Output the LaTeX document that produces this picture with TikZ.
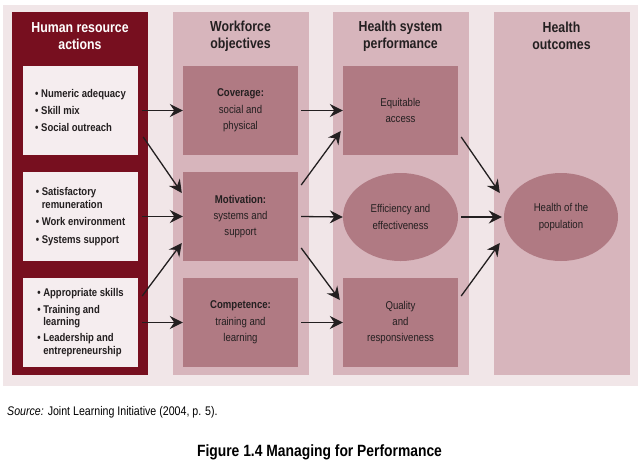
\documentclass[tikz,border=0pt]{standalone}
\usepackage{fontspec}
\setmainfont{Liberation Sans}
\newfontfamily\cond{Liberation Sans}[FakeStretch=0.85]
\usetikzlibrary{arrows.meta,shapes.geometric}
\definecolor{bgpink}{HTML}{F1E6E8}
\definecolor{maroon}{HTML}{770F1F}
\definecolor{colpink}{HTML}{D7B5BC}
\definecolor{boxrose}{HTML}{B07A83}
\definecolor{whitebox}{HTML}{F5EDEF}
\definecolor{ink}{HTML}{231F20}
\tikzset{
  column/.style={draw=none, minimum width=136pt, minimum height=363pt, inner sep=0pt},
  head/.style={align=center, font=\cond\bfseries\fontsize{14.5}{17.5}\selectfont, text=ink},
  listbox/.style={fill=whitebox, minimum width=115pt, minimum height=89pt, inner sep=0pt, align=left, text=ink,
    font=\cond\bfseries\fontsize{11.2}{12.8}\selectfont},
  rosebox/.style={fill=boxrose, minimum width=115pt, minimum height=89pt, inner sep=0pt, align=center, text=ink,
    font=\cond\fontsize{11.3}{16.3}\selectfont},
  roseell/.style={ellipse, fill=boxrose, minimum width=115pt, minimum height=88pt, inner sep=0pt, align=center, text=ink,
    font=\cond\fontsize{11.3}{16.3}\selectfont},
  conn/.style={-{Stealth[length=13pt,width=13pt,inset=4.5pt]}, line width=1.3pt, draw=ink}
}
\newcommand{\bl}{\textbullet\ }
\newcommand{\ind}{\hphantom{\textbullet\ }}
\begin{document}
\begin{tikzpicture}[x=1pt,y=-1pt]
\useasboundingbox (0,0) rectangle (643,464);
\fill[white] (0,0) rectangle (643,464);
\fill[bgpink] (3,5) rectangle (638,386);
% columns
\node[column, fill=maroon] (col1) at (80,193.5) {};
\node[column, fill=colpink] (col2) at (240.5,193.5) {};
\node[column, fill=colpink] (col3) at (400.5,193.5) {};
\node[column, fill=colpink] (col4) at (561.5,193.5) {};
% headers
\node[head, text=white] (h1) at (80,36) {Human resource\\actions};
\node[head] (h2) at (240.5,36) {Workforce\\objectives};
\node[head] (h3) at (400.5,36) {Health system\\performance};
\node[head] (h4) at (561.5,36) {Health\\outcomes};
% column 1
\node[listbox] (b1) at (80.5,110.5) {\bl Numeric adequacy\\[4.5pt]\bl Skill mix\\[4.5pt]\bl Social outreach};
\node[listbox] (b2) at (80.5,216.5) {\bl Satisfactory\\\ind remuneration\\[4.5pt]\bl Work environment\\[4.5pt]\bl Systems support};
\node[listbox] (b3) at (80.5,322.5) {\bl Appropriate skills\\[3.5pt]\bl Training and\\\ind learning\\[2.5pt]\bl Leadership and\\\ind entrepreneurship};
% column 2
\node[rosebox] (c1) at (240.5,110.5) {\textbf{Coverage:}\\social and\\physical};
\node[rosebox] (c2) at (240.5,216.5) {\textbf{Motivation:}\\systems and\\support};
\node[rosebox] (c3) at (240.5,322.5) {\textbf{Competence:}\\training and\\learning};
% column 3
\node[rosebox] (d1) at (400.5,110.5) {Equitable\\access};
\node[roseell] (d2) at (400.5,217) {Efficiency and\\effectiveness};
\node[rosebox] (d3) at (400.5,322.5) {Quality\\and\\responsiveness};
% column 4
\node[roseell, minimum width=114pt] (e) at (561,217) {Health of the\\population};
% connectors
\draw[conn] ([xshift=4pt]b1.east) -- (c1.west);
\draw[conn] ([xshift=5pt,yshift=-26.5pt]b1.east) -- ([xshift=-1pt,yshift=23.5pt]c2.west);
\draw[conn] ([xshift=4pt]b2.east) -- (c2.west);
\draw[conn] ([xshift=4pt,yshift=26.5pt]b3.east) -- ([xshift=-1pt,yshift=-26.5pt]c2.west);
\draw[conn] ([xshift=4pt]b3.east) -- (c3.west);
\draw[conn] ([xshift=3pt]c1.east) -- (d1.west);
\draw[conn] ([xshift=3pt,yshift=31.5pt]c2.east) -- ([xshift=-2pt,yshift=-20.5pt]d1.west);
\draw[conn] ([xshift=3pt]c2.east) -- (d2.west);
\draw[conn] ([xshift=3pt,yshift=-31.5pt]c2.east) -- ([xshift=-3pt,yshift=22.5pt]d3.west);
\draw[conn] ([xshift=3pt]c3.east) -- (d3.west);
\draw[conn] ([xshift=3pt,yshift=-26.5pt]d1.east) -- ([xshift=-4pt,yshift=24pt]e.west);
\draw[conn] ([xshift=3pt]d2.east) -- ([xshift=-2pt]e.west);
\draw[conn] ([xshift=3pt,yshift=26.5pt]d3.east) -- ([xshift=-4pt,yshift=-26pt]e.west);
% captions
\node[anchor=west, inner sep=0pt, font=\cond\fontsize{12.5}{14}\selectfont] (src) at (7,412) {\textit{Source:} Joint Learning Initiative (2004, p. 5).};
\node[inner sep=0pt, font=\cond\bfseries\fontsize{16.3}{18}\selectfont] (fig) at (319.5,452) {Figure 1.4 Managing for Performance};
\end{tikzpicture}
\end{document}
